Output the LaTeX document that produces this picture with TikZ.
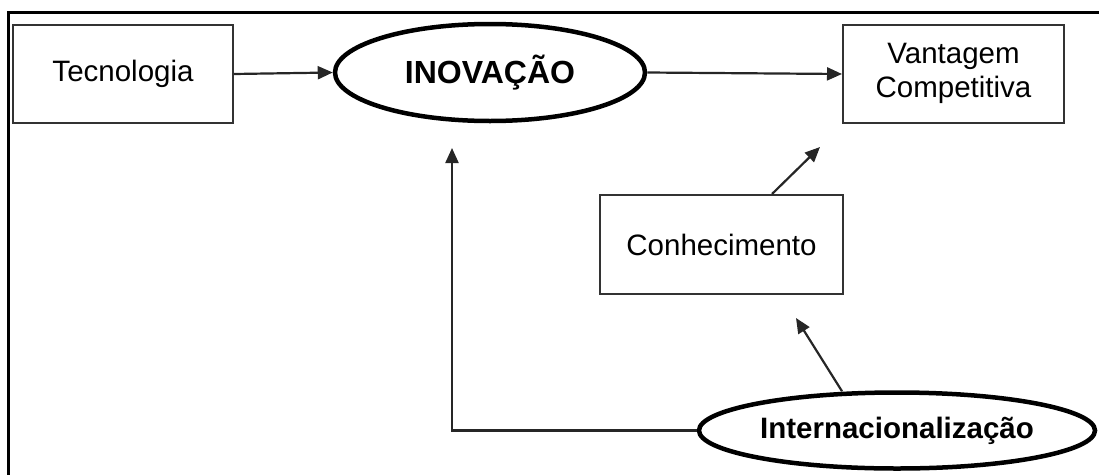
\documentclass[tikz,border=0pt]{standalone}
\usepackage{fontspec}
\setmainfont{Liberation Sans}
\usetikzlibrary{shapes.geometric,arrows.meta}
\begin{document}
\begin{tikzpicture}[x=1pt,y=-1pt,
  boxnode/.style={draw=black!80,line width=2pt,rectangle,inner sep=0pt,font=\fontsize{29.5}{34}\selectfont,align=center},
  ovalnode/.style={draw=black,line width=4.5pt,ellipse,inner sep=0pt,font=\bfseries},
  conn/.style={draw=black!85,line width=2.2pt,-{Triangle[length=15pt,width=13pt]}}]
\useasboundingbox (0,0) rectangle (1099,474);
\draw[line width=3pt] (8,476) -- (8,12) -- (1101,12);
\node[boxnode,minimum width=220pt,minimum height=98pt] (tec) at (123,74) {Tecnologia};
\node[ovalnode,minimum width=310pt,minimum height=97pt,font=\bfseries\fontsize{32}{36}\selectfont] (ino) at (490,72.5) {INOVAÇÃO};
\node[boxnode,minimum width=221pt,minimum height=98pt] (van) at (953.5,74) {\raisebox{-5pt}{\begin{tabular}{@{}c@{}}Vantagem\\Competitiva\end{tabular}}};
\node[boxnode,minimum width=243pt,minimum height=99pt] (con) at (721.5,244.5) {Conhecimento};
\node[ovalnode,minimum width=396pt,minimum height=76pt,font=\bfseries\fontsize{29.5}{34}\selectfont] (int) at (897,430.5) {Internacionalização};
\coordinate (a1) at (820,147);
\coordinate (a2) at (796,318);
\coordinate (a3) at (452,148);
\draw[conn] (tec.east) -- (ino.west);
\draw[conn] (ino.east) -- (van.west);
\draw[conn] ([xshift=50.5pt]con.north) -- (a1);
\draw[conn] ([xshift=-55pt,yshift=-1pt]int.north) -- (a2);
\draw[conn] (int.west) -| (a3);
\end{tikzpicture}
\end{document}
